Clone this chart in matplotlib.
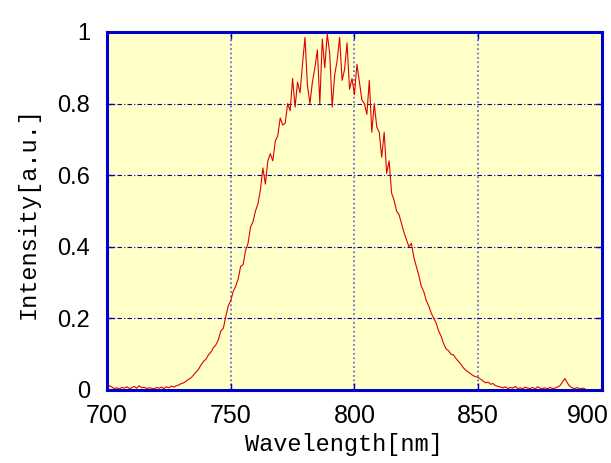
import numpy as np
import matplotlib
matplotlib.use("Agg")
import matplotlib.pyplot as plt
import matplotlib.transforms as mtransforms

# spectrum sampled every 1 nm from 700 nm
wavelength = np.arange(700, 894)
intensity = [
    0.005, 0.012, 0.008, 0.004, 0.006, 0.003, 0.007, 0.005, 0.009, 0.004,   # 700
    0.006, 0.010, 0.005, 0.012, 0.006, 0.008, 0.004, 0.006, 0.005, 0.003,   # 710
    0.007, 0.005, 0.008, 0.004, 0.009, 0.006, 0.011, 0.008, 0.012, 0.014,   # 720
    0.018, 0.020, 0.025, 0.030, 0.034, 0.042, 0.050, 0.058, 0.070, 0.080,   # 730
    0.086, 0.098, 0.106, 0.118, 0.126, 0.140, 0.165, 0.172, 0.205, 0.235,   # 740
    0.250, 0.275, 0.290, 0.310, 0.345, 0.350, 0.390, 0.410, 0.455, 0.470,   # 750
    0.500, 0.520, 0.560, 0.620, 0.575, 0.640, 0.660, 0.640, 0.695, 0.710,   # 760
    0.760, 0.740, 0.745, 0.800, 0.780, 0.870, 0.790, 0.860, 0.830, 0.910,   # 770
    0.985, 0.850, 0.800, 0.860, 0.900, 0.950, 0.800, 0.980, 0.900, 0.995,   # 780
    0.940, 0.790, 0.880, 0.920, 0.985, 0.865, 0.895, 0.970, 0.840, 0.870,   # 790
    0.825, 0.910, 0.860, 0.810, 0.800, 0.770, 0.865, 0.720, 0.800, 0.735,   # 800
    0.720, 0.650, 0.720, 0.605, 0.640, 0.550, 0.530, 0.500, 0.490, 0.465,   # 810
    0.440, 0.420, 0.400, 0.410, 0.370, 0.345, 0.320, 0.290, 0.275, 0.250,   # 820
    0.235, 0.215, 0.200, 0.187, 0.165, 0.150, 0.130, 0.115, 0.110, 0.100,   # 830
    0.098, 0.088, 0.080, 0.072, 0.062, 0.055, 0.050, 0.045, 0.040, 0.037,   # 840
    0.035, 0.030, 0.025, 0.020, 0.022, 0.016, 0.018, 0.012, 0.010, 0.008,   # 850
    0.006, 0.009, 0.004, 0.007, 0.005, 0.010, 0.004, 0.006, 0.003, 0.008,   # 860
    0.005, 0.004, 0.007, 0.003, 0.009, 0.005, 0.004, 0.006, 0.003, 0.007,   # 870
    0.004, 0.005, 0.008, 0.012, 0.022, 0.032, 0.020, 0.010, 0.006, 0.004,   # 880
    0.007, 0.003, 0.005, 0.004,                                             # 890
]

x_ticks = [700, 750, 800, 850, 900]
y_ticks = [0, 0.2, 0.4, 0.6, 0.8, 1]
y_tick_labels = ["0", "0.2", "0.4", "0.6", "0.8", "1"]

frame_blue = "#0000cc"

fig = plt.figure(figsize=(6.11, 4.63), dpi=100)
ax = fig.add_axes([0.1751, 0.1577, 0.8101, 0.7732])
ax.set_facecolor("#ffffc8")

ax.plot(wavelength, intensity, color="#e00000", linewidth=0.8)

ax.set_xlim(700, 900)
ax.set_ylim(0, 1)
ax.set_xticks(x_ticks)
ax.set_yticks(y_ticks)
ax.set_yticklabels(y_tick_labels)

# vertical grid: light blue dots, horizontal grid: dark dash-dot
for xv in x_ticks[1:-1]:
    ax.axvline(xv, color="#5555dd", linewidth=1.2, linestyle=":", zorder=0.5)
for yv in y_ticks[1:-1]:
    ax.axhline(yv, color="#000099", linewidth=0.8,
               linestyle=(0, (4, 2, 1, 2)), zorder=0.5)

for side in ["top", "bottom", "left", "right"]:
    ax.spines[side].set_linewidth(2.2)
    ax.spines[side].set_color(frame_blue)

ax.tick_params(direction="in", length=5, width=1, color=frame_blue,
               top=True, right=True, pad=10)
ax.tick_params(axis="x", labelsize=18)
ax.tick_params(axis="y", labelsize=17, pad=12)
for lbl in ax.get_xticklabels() + ax.get_yticklabels():
    lbl.set_family("Liberation Sans")

# nudge the last x label inward so it stays inside the figure
last = ax.get_xticklabels()[-1]
last.set_transform(last.get_transform() +
                   mtransforms.ScaledTranslation(-14 / 100, 0, fig.dpi_scale_trans))

fig.text(344 / 611, 0.04, "Wavelength[nm]", family="Liberation Mono",
         fontsize=17, ha="center", va="center")
fig.text(28 / 611, 0.54, "Intensity[a.u.]", family="Liberation Mono",
         fontsize=17, ha="center", va="center", rotation=90)

fig.savefig("out.png", dpi=100)
